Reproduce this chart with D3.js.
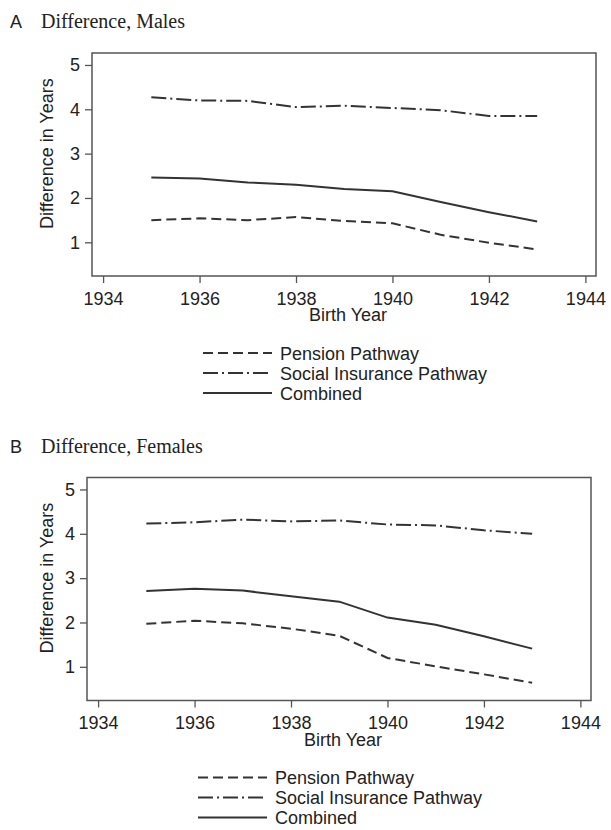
<!DOCTYPE html>
<html>
<head>
<meta charset="utf-8">
<script src="https://cdn.jsdelivr.net/npm/d3@7"></script>
<style>
  html, body { margin: 0; padding: 0; background: #fff; }
  svg { display: block; }
  text { fill: #222; }
</style>
</head>
<body>
<script>
// Birth cohorts shown on the x axis
const birthYears = [1935, 1936, 1937, 1938, 1939, 1940, 1941, 1942, 1943];

// Panel A: males (difference in years)
const malePension  = [1.50, 1.54, 1.50, 1.57, 1.48, 1.43, 1.17, 0.99, 0.84];
const maleSocial   = [4.27, 4.20, 4.19, 4.05, 4.08, 4.03, 3.98, 3.85, 3.85];
const maleCombined = [2.46, 2.44, 2.35, 2.30, 2.20, 2.15, 1.91, 1.68, 1.47];

// Panel B: females (difference in years)
const femalePension  = [1.97, 2.04, 1.98, 1.86, 1.70, 1.20, 1.01, 0.83, 0.64];
const femaleSocial   = [4.23, 4.26, 4.32, 4.28, 4.30, 4.21, 4.19, 4.08, 4.00];
const femaleCombined = [2.71, 2.76, 2.72, 2.59, 2.47, 2.11, 1.95, 1.69, 1.41];

// Axis ticks and labels
const xTicks = [1934, 1936, 1938, 1940, 1942, 1944];
const yTicks = [1, 2, 3, 4, 5];
const seriesNames = ["Pension Pathway", "Social Insurance Pathway", "Combined"];
const panelLetters = ["A", "B"];
const panelTitles = ["Difference, Males", "Difference, Females"];
const xTitle = "Birth Year";
const yTitle = "Difference in Years";

const W = 611, H = 830;
const SANS = "'Liberation Sans', Arial, sans-serif";
const SERIF = "'Liberation Serif', 'Times New Roman', serif";
const LINE = "#333";
const dashes = ["10,5", "15,4,2,4", null];

const svg = d3.select("body").append("svg")
  .attr("width", W).attr("height", H);

const panels = [
  { left: 92, top: 53, series: [malePension, maleSocial, maleCombined] },
  { left: 87, top: 477.5, series: [femalePension, femaleSocial, femaleCombined] }
];
const plotW = 504, plotH = 223;

panels.forEach((p, i) => {
  const g = svg.append("g").attr("transform", `translate(${p.left},${p.top})`);

  const x = d3.scaleLinear().domain([1933.77, 1944.22]).range([0, plotW]);
  const y = d3.scaleLinear().domain([0.24, 5.27]).range([plotH, 0]);

  // panel letter and title
  svg.append("text")
    .attr("x", 10).attr("y", p.top - 25)
    .attr("font-family", SANS).attr("font-size", 18)
    .text(panelLetters[i]);
  svg.append("text")
    .attr("x", 41).attr("y", p.top - 25)
    .attr("font-family", SERIF).attr("font-size", 20)
    .text(panelTitles[i]);

  // y axis
  const yAxis = g.append("g")
    .call(d3.axisLeft(y).tickValues(yTicks).tickSize(7).tickPadding(5).tickFormat(d3.format("d")));
  yAxis.select(".domain").remove();
  yAxis.selectAll(".tick line").attr("stroke", "#555").attr("stroke-width", 1.3);
  yAxis.selectAll(".tick text")
    .attr("font-family", SANS).attr("font-size", 18).attr("fill", "#222");

  // x axis
  const xAxis = g.append("g").attr("transform", `translate(0,${plotH})`)
    .call(d3.axisBottom(x).tickValues(xTicks).tickSize(7).tickPadding(9).tickFormat(d3.format("d")));
  xAxis.select(".domain").remove();
  xAxis.selectAll(".tick line").attr("stroke", "#555").attr("stroke-width", 1.3);
  xAxis.selectAll(".tick text")
    .attr("font-family", SANS).attr("font-size", 18).attr("fill", "#222");

  // plot frame
  g.append("rect")
    .attr("x", 0).attr("y", 0).attr("width", plotW).attr("height", plotH)
    .attr("fill", "none").attr("stroke", "#555").attr("stroke-width", 1.5);

  // axis titles
  g.append("text")
    .attr("x", plotW / 2 + 4).attr("y", plotH + 45)
    .attr("text-anchor", "middle")
    .attr("font-family", SANS).attr("font-size", 18)
    .text(xTitle);
  g.append("text")
    .attr("transform", `translate(${53 - p.left},${(y(5) + y(1)) / 2}) rotate(-90)`)
    .attr("text-anchor", "middle")
    .attr("font-family", SANS).attr("font-size", 18)
    .text(yTitle);

  // series lines
  const line = d3.line().x((d, k) => x(birthYears[k])).y(d => y(d));
  p.series.forEach((vals, s) => {
    g.append("path")
      .datum(vals)
      .attr("d", line)
      .attr("fill", "none")
      .attr("stroke", LINE)
      .attr("stroke-width", 2)
      .attr("stroke-dasharray", dashes[s]);
  });

  // legend below the axis title
  const lg = g.append("g").attr("transform", `translate(111,${plotH + 77})`);
  seriesNames.forEach((name, s) => {
    const row = lg.append("g").attr("transform", `translate(0,${s * 20})`);
    row.append("line")
      .attr("x1", 0).attr("x2", 69).attr("y1", 0).attr("y2", 0)
      .attr("stroke", LINE).attr("stroke-width", 2)
      .attr("stroke-dasharray", dashes[s]);
    row.append("text")
      .attr("x", 77).attr("y", 6.5)
      .attr("font-family", SANS).attr("font-size", 18)
      .text(name);
  });
});
</script>
</body>
</html>
